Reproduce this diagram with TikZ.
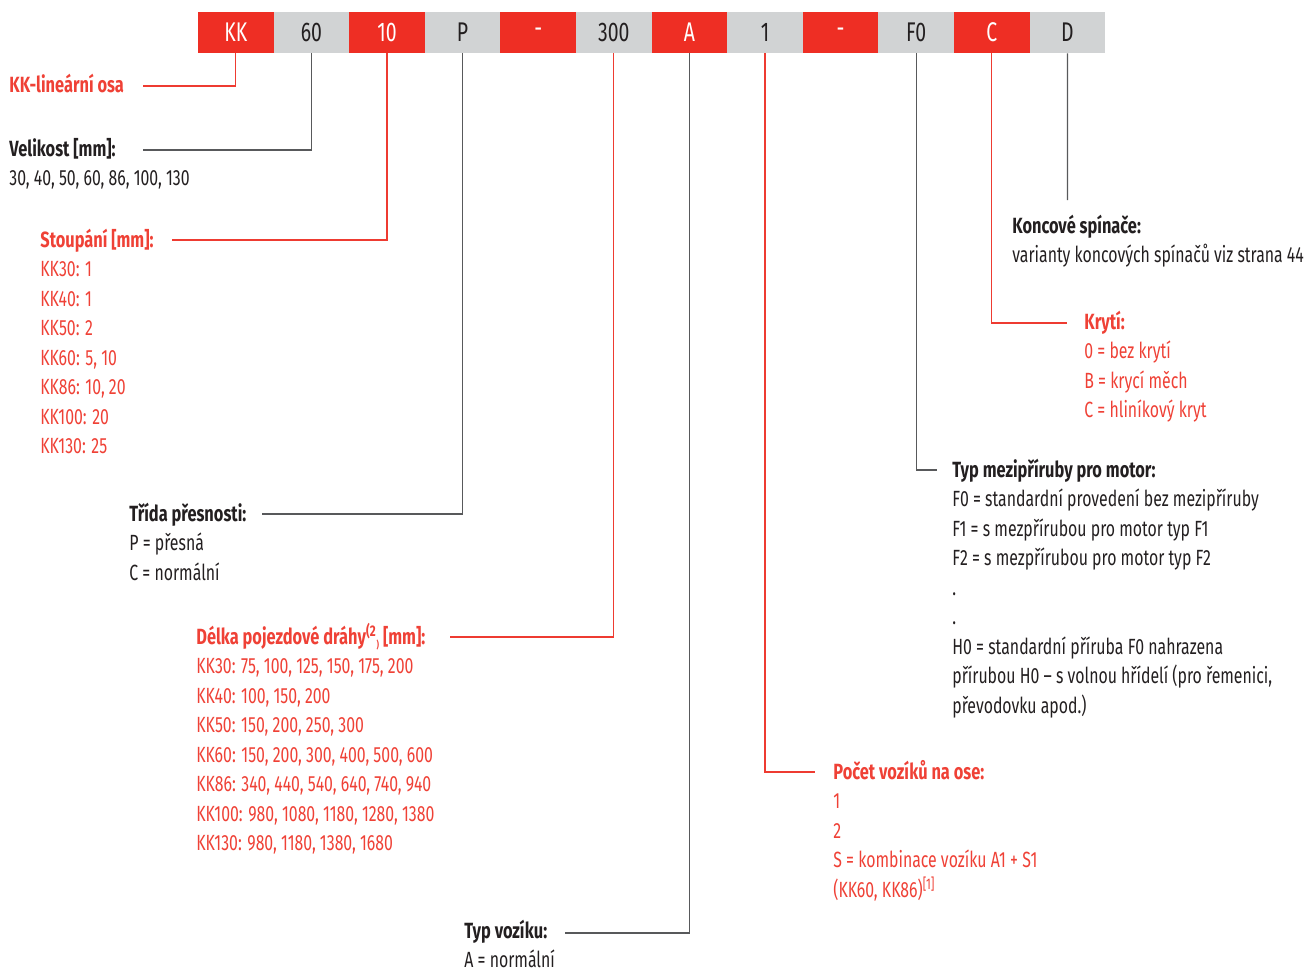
\documentclass[tikz,border=0pt]{standalone}
\usepackage{fontspec}
\setmainfont{Fira Sans}[FakeStretch=0.72, BoldFeatures={FakeStretch=0.745}]
\definecolor{boxred}{HTML}{EE2E24}
\definecolor{boxgray}{HTML}{D1D3D4}
\definecolor{txtred}{HTML}{EF4136}
\definecolor{txtdark}{HTML}{231F20}
\definecolor{lnred}{HTML}{EE3B31}
\definecolor{lngray}{HTML}{58595B}
\newcommand\legendblock[6]{%
  \node[head, text=#4] (#1h) at (#2,#3) {#5};
  \foreach \t [count=\i] in {#6} \node[body, text=#4] (#1\i) at (#2,#3+29.5*\i) {\t};
}
\begin{document}
\begin{tikzpicture}[x=0.5pt,y=-0.5pt,
  cell/.style={minimum width=37.8pt, minimum height=20.5pt, inner sep=0pt, font=\fontsize{13.5}{15}\selectfont},
  rcell/.style={cell, fill=boxred, text=white},
  gcell/.style={cell, fill=boxgray, text=txtdark},
  head/.style={anchor=base west, inner sep=0pt, font=\fontsize{11}{13}\selectfont\bfseries},
  body/.style={anchor=base west, inner sep=0pt, font=\fontsize{11}{13}\selectfont},
  lred/.style={draw=lnred, line width=0.65pt},
  lgray/.style={draw=lngray, line width=0.65pt}]
\useasboundingbox (0,0) rectangle (1308,971);
% code boxes
\foreach \lab/\sty [count=\k] in {KK/rcell, 60/gcell, 10/rcell, P/gcell, -/rcell, 300/gcell, A/rcell, 1/gcell, -/rcell, F0/gcell, C/rcell, D/gcell}
  \node[\sty] (c\k) at (198+75.6*\k-37.8, 32.5) {\lab};
% legends
\node[head, text=txtred] (kkh) at (9,92) {KK-lineární osa};
\legendblock{vel}{9}{156}{txtdark}{Velikost [mm]:}{{30, 40, 50, 60, 86, 100, 130}}
\legendblock{st}{40}{247}{txtred}{Stoupání [mm]:}{KK30: 1, KK40: 1, KK50: 2, {KK60: 5, 10}, {KK86: 10, 20}, KK100: 20, KK130: 25}
\legendblock{tr}{129}{521}{txtdark}{Třída přesnosti:}{P = přesná, C = normální}
\legendblock{de}{196}{644}{txtred}{Délka pojezdové dráhy\textsuperscript{(2}\raisebox{-0.35ex}{\tiny)} [mm]:}{{KK30: 75, 100, 125, 150, 175, 200}, {KK40: 100, 150, 200}, {KK50: 150, 200, 250, 300}, {KK60: 150, 200, 300, 400, 500, 600}, {KK86: 340, 440, 540, 640, 740, 940}, {KK100: 980, 1080, 1180, 1280, 1380}, {KK130: 980, 1180, 1380, 1680}}
\legendblock{tv}{464}{938}{txtdark}{Typ vozíku:}{A = normální}
\legendblock{po}{833}{779}{txtred}{Počet vozíků na ose:}{1, 2, S = kombinace vozíku A1 + S1, {(KK60, KK86)\textsuperscript{[1]}}}
\legendblock{tm}{952}{477}{txtdark}{Typ mezipříruby pro motor:}{F0 = standardní provedení bez mezipříruby, F1 = s mezpřírubou pro motor typ F1, F2 = s mezpřírubou pro motor typ F2, ., ., H0 = standardní příruba F0 nahrazena, {přírubou H0 -- s volnou hřídelí (pro řemenici,}, převodovku apod.)}
\legendblock{kr}{1084}{329}{txtred}{Krytí:}{0 = bez krytí, B = krycí měch, C = hliníkový kryt}
\legendblock{ko}{1012}{233}{txtdark}{Koncové spínače:}{varianty koncových spínačů viz strana 44}
% connector ends
\coordinate (e1) at (143,86);
\coordinate (e2) at (143,150);
\coordinate (e3) at (172,240);
\coordinate (e4) at (262,514);
\coordinate (e6) at (450,637);
\coordinate (e7) at (565,933);
\coordinate (e8) at (815,772);
\coordinate (e10) at (937,470);
\coordinate (e11) at (1067,323);
\coordinate (e12) at (1067.4,200);
\draw[lred] (c1.south) |- (e1);
\draw[lgray] (c2.south) |- (e2);
\draw[lred] (c3.south) |- (e3);
\draw[lgray] (c4.south) |- (e4);
\draw[lred] (c6.south) |- (e6);
\draw[lgray] (c7.south) |- (e7);
\draw[lred] (c8.south) |- (e8);
\draw[lgray] (c10.south) |- (e10);
\draw[lred] (c11.south) |- (e11);
\draw[lgray] (c12.south) -- (e12);
\end{tikzpicture}
\end{document}
